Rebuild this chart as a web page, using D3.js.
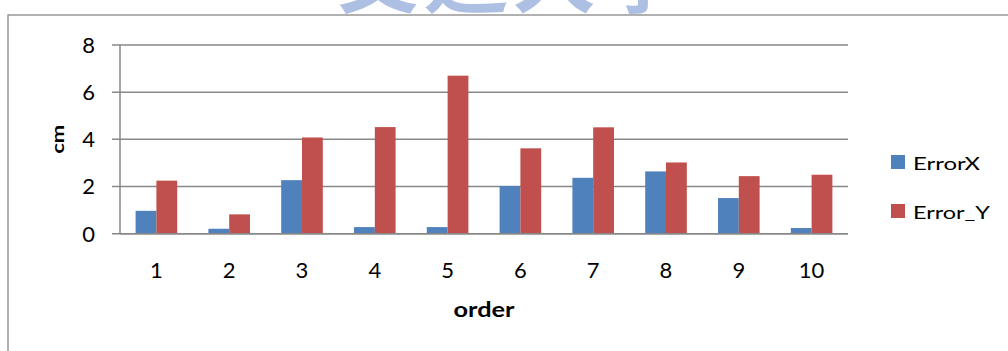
<!DOCTYPE html>
<html>
<head>
<meta charset="utf-8">
<script src="https://cdn.jsdelivr.net/npm/d3@7"></script>
<style>
  html, body { margin: 0; padding: 0; background: #fff; }
  svg { display: block; }
  text { font-family: Lato, "Open Sans", sans-serif; fill: #000; }
</style>
</head>
<body>
<svg id="chart" width="1008" height="351"></svg>
<script>
// Positioning error per trial
const categories = ["1", "2", "3", "4", "5", "6", "7", "8", "9", "10"];
const seriesNames = ["ErrorX", "Error_Y"];
const errorX = [0.97, 0.21, 2.27, 0.28, 0.28, 2.02, 2.37, 2.64, 1.51, 0.24];
const errorY = [2.25, 0.82, 4.08, 4.52, 6.70, 3.62, 4.51, 3.02, 2.44, 2.50];
const yTicks = [0, 2, 4, 6, 8];
const colors = ["#4F81BD", "#C0504D"];

const svg = d3.select("#chart");
const W = 1008, H = 351;
const plot = { left: 120, right: 848, top: 45, bottom: 233.7 };
const grid = "#888888";

// faint header mark behind the chart frame
svg.append("text")
  .attr("x", 512).attr("y", 6)
  .attr("text-anchor", "middle")
  .style("font-family", '"Noto Sans CJK TC", sans-serif')
  .style("font-size", "84px")
  .style("font-weight", "bold")
  .style("fill", "#9fb5df")
  .style("letter-spacing", "4px")
  .attr("opacity", 0.85)
  .text("交通大學");

// chart frame
svg.append("rect")
  .attr("x", 8).attr("y", 15)
  .attr("width", W + 20).attr("height", H + 20)
  .attr("fill", "#fff")
  .attr("stroke", grid).attr("stroke-width", 1.3);

const x0 = d3.scaleBand()
  .domain(categories)
  .range([plot.left, plot.right])
  .paddingInner(1.5 / 3.5)
  .paddingOuter(0.75 / 3.5);
const x1 = d3.scaleBand()
  .domain(seriesNames)
  .range([0, x0.bandwidth()]);
const y = d3.scaleLinear().domain([0, 8]).range([plot.bottom, plot.top]);

// gridlines
svg.append("g")
  .selectAll("line")
  .data(yTicks)
  .join("line")
  .attr("x1", plot.left - 8).attr("x2", plot.right)
  .attr("y1", d => y(d)).attr("y2", d => y(d))
  .attr("stroke", grid).attr("stroke-width", 1.5);

// vertical axis line
svg.append("line")
  .attr("x1", plot.left).attr("x2", plot.left)
  .attr("y1", y(8)).attr("y2", y(0))
  .attr("stroke", grid).attr("stroke-width", 1.5);

// y tick labels
svg.append("g")
  .selectAll("text")
  .data(yTicks)
  .join("text")
  .attr("x", 95)
  .attr("y", d => y(d))
  .attr("dy", "0.36em")
  .attr("text-anchor", "end")
  .style("font-size", "22px")
  .text(d => d);

// bars
const rows = categories.map((c, i) => ({ cat: c, vals: [errorX[i], errorY[i]] }));
const groups = svg.append("g")
  .selectAll("g")
  .data(rows)
  .join("g")
  .attr("transform", d => `translate(${x0(d.cat)},0)`);
groups.selectAll("rect")
  .data(d => d.vals.map((v, j) => ({ name: seriesNames[j], v, j })))
  .join("rect")
  .attr("x", d => x1(d.name))
  .attr("y", d => y(d.v))
  .attr("width", x1.bandwidth())
  .attr("height", d => y(0) - y(d.v))
  .attr("fill", d => colors[d.j]);

// baseline redrawn over bars
svg.append("line")
  .attr("x1", plot.left).attr("x2", plot.right)
  .attr("y1", y(0)).attr("y2", y(0))
  .attr("stroke", grid).attr("stroke-width", 1.5);

// x tick labels
svg.append("g")
  .selectAll("text")
  .data(categories)
  .join("text")
  .attr("x", d => x0(d) + x0.bandwidth() / 2)
  .attr("y", 277.5)
  .attr("text-anchor", "middle")
  .style("font-size", "22px")
  .text(d => d);

// axis titles
svg.append("text")
  .attr("x", (plot.left + plot.right) / 2)
  .attr("y", 316.7)
  .attr("text-anchor", "middle")
  .style("font-size", "20px")
  .style("font-weight", "bold")
  .attr("textLength", 61)
  .attr("lengthAdjust", "spacingAndGlyphs")
  .text("order");

svg.append("text")
  .attr("transform", `translate(63.5,${(plot.top + plot.bottom) / 2}) rotate(-90)`)
  .attr("text-anchor", "middle")
  .style("font-size", "17px")
  .style("font-weight", "bold")
  .attr("textLength", 29)
  .attr("lengthAdjust", "spacingAndGlyphs")
  .text("cm");

// legend
const legendWidths = [67, 77];
const legend = svg.append("g")
  .selectAll("g")
  .data(seriesNames)
  .join("g")
  .attr("transform", (d, i) => `translate(891,${155 + i * 49})`);
legend.append("rect")
  .attr("width", 14).attr("height", 14)
  .attr("fill", (d, i) => colors[i]);
legend.append("text")
  .attr("x", 22).attr("y", 14.5)
  .style("font-size", "18px")
  .attr("textLength", (d, i) => legendWidths[i])
  .attr("lengthAdjust", "spacingAndGlyphs")
  .text(d => d);
</script>
</body>
</html>
